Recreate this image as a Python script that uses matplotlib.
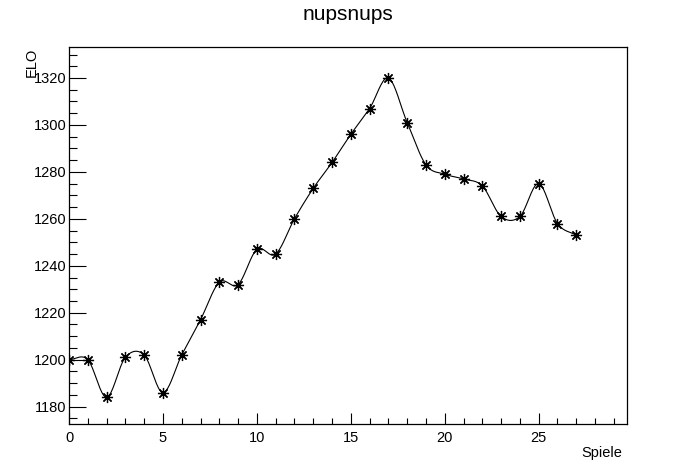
import numpy as np
import matplotlib
matplotlib.use("Agg")
import matplotlib.pyplot as plt
from matplotlib.ticker import MultipleLocator

# ELO-Verlauf pro Spiel
spiele = list(range(28))
elo = [1200, 1200, 1184, 1201, 1202, 1186, 1202, 1217, 1233, 1232,
       1247, 1245, 1260, 1273, 1284, 1296, 1307, 1320, 1301, 1283,
       1279, 1277, 1274, 1261, 1261, 1275, 1258, 1253]

titel = "nupsnups"
x_label = "Spiele"
y_label = "ELO"


def smooth_curve(x, y, n=20):
    """Catmull-Rom Kurve durch die Punkte (wie ROOT Option 'C')"""
    x = np.asarray(x, float)
    y = np.asarray(y, float)
    px = np.concatenate([[2 * x[0] - x[1]], x, [2 * x[-1] - x[-2]]])
    py = np.concatenate([[2 * y[0] - y[1]], y, [2 * y[-1] - y[-2]]])
    xs, ys = [], []
    t = np.linspace(0, 1, n, endpoint=False)
    for i in range(1, len(px) - 2):
        for p, out in ((px, xs), (py, ys)):
            p0, p1, p2, p3 = p[i - 1], p[i], p[i + 1], p[i + 2]
            out.extend(0.5 * ((2 * p1) + (-p0 + p2) * t
                              + (2 * p0 - 5 * p1 + 4 * p2 - p3) * t ** 2
                              + (-p0 + 3 * p1 - 3 * p2 + p3) * t ** 3))
    xs.append(x[-1])
    ys.append(y[-1])
    return np.array(xs), np.array(ys)


plt.rcParams['font.family'] = ['Liberation Sans', 'DejaVu Sans']

fig = plt.figure(figsize=(6.96, 4.72), dpi=100)
ax = fig.add_axes([69 / 696, 48 / 472, 558 / 696, 377 / 472])

cx, cy = smooth_curve(spiele, elo)
ax.plot(cx, cy, color='black', linewidth=0.8)
ax.plot(spiele, elo, linestyle='none', marker=(8, 2, 0), markersize=8,
        markeredgewidth=0.9, color='black')

ax.set_xlim(0, 29.7)
ax.set_ylim(1172.6, 1333.2)

ax.xaxis.set_major_locator(MultipleLocator(5))
ax.xaxis.set_minor_locator(MultipleLocator(1))
ax.yaxis.set_major_locator(MultipleLocator(20))
ax.yaxis.set_minor_locator(MultipleLocator(5))

ax.tick_params(axis='x', which='major', direction='in', length=8, width=0.8,
               labelsize=10.5, pad=5)
ax.tick_params(axis='x', which='minor', direction='in', length=4, width=0.8)
ax.tick_params(axis='y', which='major', direction='in', length=12, width=0.8,
               labelsize=10.5, pad=2)
ax.tick_params(axis='y', which='minor', direction='in', length=6, width=0.8)

for s in ax.spines.values():
    s.set_linewidth(0.9)

fig.text(0.5, 1 - 14 / 472, titel, ha='center', va='center', fontsize=15)
fig.text(622 / 696, 1 - 453 / 472, x_label, ha='right', va='center', fontsize=10.5)
fig.text(32 / 696, 1 - 48 / 472, y_label, ha='center', va='top', rotation=90,
         fontsize=10.5)

fig.savefig("out.png", dpi=100)
